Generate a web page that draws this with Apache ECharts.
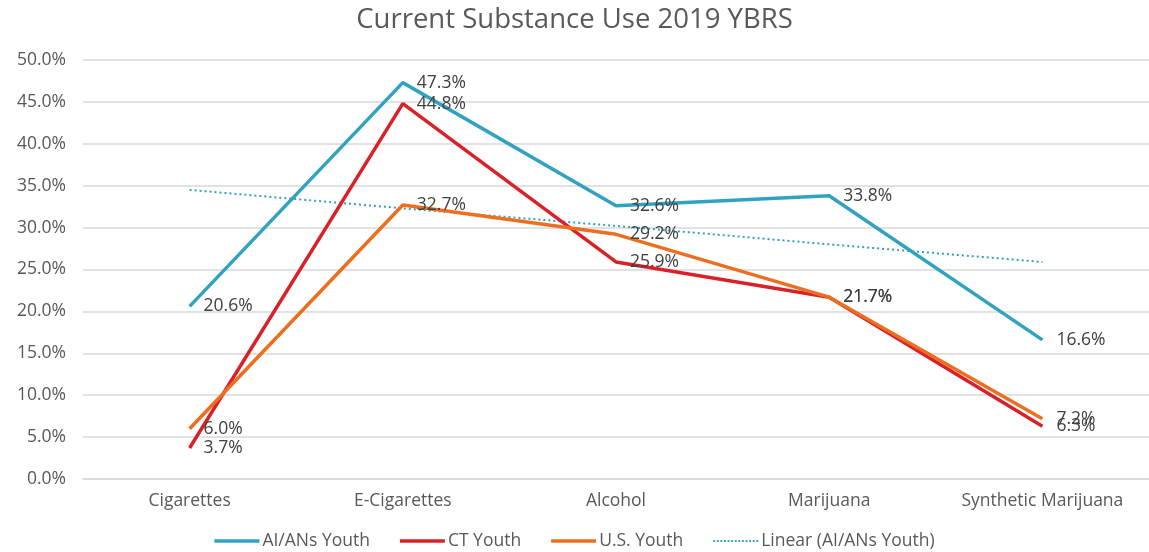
<!DOCTYPE html>
<html><head><meta charset="utf-8">
<script src="https://cdn.jsdelivr.net/npm/echarts@6/dist/echarts.min.js"></script>
<style>html,body{margin:0;padding:0;background:#fff}#c{width:1149px;height:552px}</style>
</head><body><div id="c"></div>
<script>
const categories = ['Cigarettes','E-Cigarettes','Alcohol','Marijuana','Synthetic Marijuana'];
const aianYouth = [20.6, 47.3, 32.6, 33.8, 16.6];
const ctYouth = [3.7, 44.8, 25.9, 21.7, 6.3];
const usYouth = [6.0, 32.7, 29.2, 21.7, 7.2];
const linearAian = [34.5, 32.3, 30.2, 28.0, 25.9];
const yTicks = [0, 5, 10, 15, 20, 25, 30, 35, 40, 45, 50];

const FONT = '"Open Sans", "DejaVu Sans", sans-serif';
const TXT = '#595959';
const FS = 17.5;
const chart = echarts.init(document.getElementById('c'), null, {renderer:'canvas'});
const lbl = {show:true, position:'right', distance:14, color:'#404040', fontSize:FS, fontFamily:FONT,
  formatter: p => p.value.toFixed(1) + '%'};
function lineSeries(name, data, color){
  return {name, type:'line', data, symbol:'circle', symbolSize:0.01, showSymbol:true, smooth:false,
    lineStyle:{color, width:3.5}, itemStyle:{color}, label:lbl, z:3};
}
let dots = '';
for (let x = 0; x < 44; x += 3.5) dots += 'M' + x + ',0h1.8v1.8h-' + 1.8 + 'Z';
const solidIcon = 'path://M0,0L45,0L45,3.5L0,3.5Z';
chart.setOption({
  animation:false,
  textStyle:{fontFamily:FONT},
  title:{text:'Current Substance Use 2019 YBRS', left:'center', top:1,
    textStyle:{fontFamily:FONT, fontSize:27.5, fontWeight:'normal', color:TXT}},
  grid:{left:83, right:-9, top:60, bottom:73, containLabel:false},
  legend:{bottom:-3, left:'center', itemWidth:45, itemHeight:14, itemGap:30,
    textStyle:{fontFamily:FONT, fontSize:FS, color:TXT, padding:[0,0,0,-2]},
    data:[
      {name:'AI/ANs Youth', icon:solidIcon},
      {name:'CT Youth', icon:solidIcon},
      {name:'U.S. Youth', icon:solidIcon},
      {name:'Linear (AI/ANs Youth)', icon:'path://' + dots}
    ]},
  xAxis:{type:'category', data:categories, boundaryGap:true,
    axisLine:{show:true, lineStyle:{color:'#d9d9d9', width:1.5}}, axisTick:{show:false},
    axisLabel:{color:TXT, fontSize:FS, fontFamily:FONT, margin:13}},
  yAxis:{type:'value', min:yTicks[0], max:yTicks[yTicks.length-1], interval:5,
    axisLine:{show:false}, axisTick:{show:false},
    splitLine:{lineStyle:{color:'#d9d9d9', width:1.5}},
    axisLabel:{color:TXT, fontSize:FS, fontFamily:FONT, margin:17, formatter:v=>v.toFixed(1)+'%'}},
  series:[
    lineSeries('AI/ANs Youth', aianYouth, '#31A2BF'),
    lineSeries('CT Youth', ctYouth, '#D9212A'),
    lineSeries('U.S. Youth', usYouth, '#EE6E1F'),
    {name:'Linear (AI/ANs Youth)', type:'line', data:linearAian, symbol:'none',
      lineStyle:{color:'#31A2BF', width:2, type:[2,3]}, itemStyle:{color:'#31A2BF'}, z:2}
  ]
});
</script></body></html>
